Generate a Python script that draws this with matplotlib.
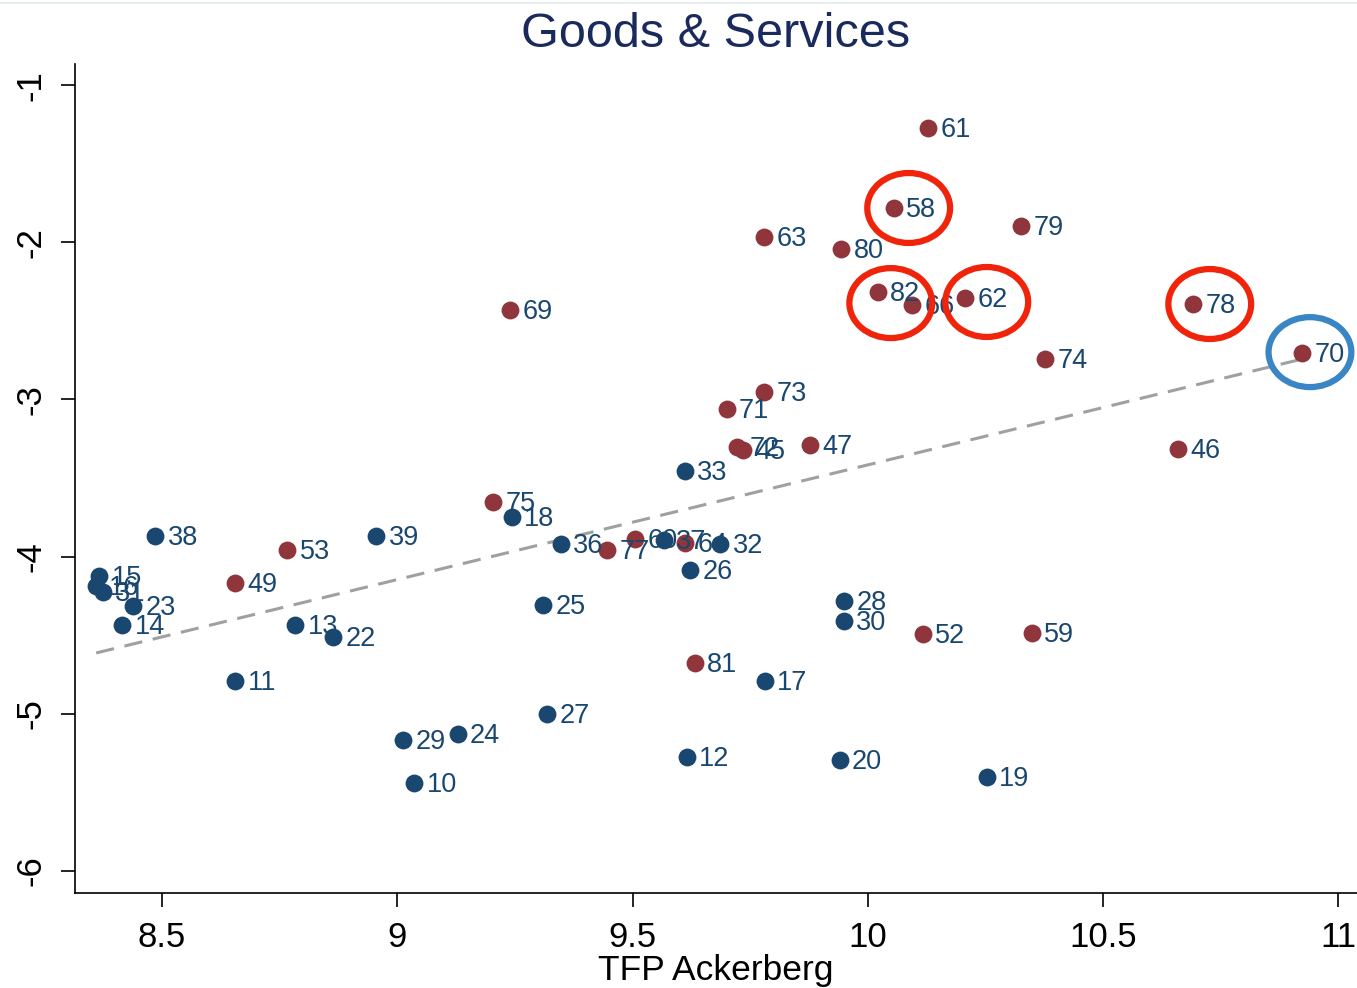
import numpy as np
import matplotlib
matplotlib.use('Agg')
import matplotlib.pyplot as plt
from matplotlib.patches import Ellipse
from matplotlib.lines import Line2D

plt.rcParams['font.family'] = ['Liberation Sans', 'DejaVu Sans']

# blue group
blue_lab = ['10', '11', '12', '13', '14', '15', '16', '17', '18', '19', '20', '22', '23', '24',
            '25', '26', '27', '28', '29', '30', '31', '32', '33', '36', '37', '38', '39']
blue_x = [9.036, 8.655, 9.615, 8.783, 8.415, 8.366, 8.360, 9.781, 9.243, 10.253, 9.940, 8.864, 8.438, 9.128,
          9.309, 9.623, 9.319, 9.949, 9.013, 9.949, 8.374, 9.687, 9.611, 9.347, 9.566, 8.485, 8.955]
blue_y = [-5.440, -4.791, -5.275, -4.435, -4.435, -4.123, -4.187, -4.791, -3.748, -5.402, -5.294, -4.511, -4.314, -5.128,
          -4.308, -4.085, -5.001, -4.282, -5.167, -4.410, -4.225, -3.920, -3.455, -3.920, -3.894, -3.869, -3.869]

# red group
red_lab = ['45', '46', '47', '49', '52', '53', '58', '59', '60', '61', '62', '63', '64', '66',
           '69', '70', '71', '72', '73', '74', '75', '77', '78', '79', '80', '81', '82']
red_x = [9.734, 10.660, 9.877, 8.655, 10.117, 8.766, 10.055, 10.349, 9.506, 10.128, 10.206, 9.779, 9.611, 10.094,
         9.240, 10.923, 9.700, 9.723, 9.779, 10.377, 9.204, 9.445, 10.691, 10.326, 9.943, 9.632, 10.021]
red_y = [-3.322, -3.316, -3.290, -4.168, -4.492, -3.958, -1.782, -4.486, -3.888, -1.274, -2.355, -1.967, -3.913, -2.400,
         -2.431, -2.705, -3.061, -3.303, -2.953, -2.743, -3.653, -3.958, -2.393, -1.897, -2.043, -4.677, -2.317]

# highlighted points: label, ring colour, shift of ring centre from the point (data units)
circled = [('58', '#f0240a', 0.032, 0.0),
           ('82', '#f0240a', 0.028, -0.07),
           ('62', '#f0240a', 0.047, -0.025),
           ('78', '#f0240a', 0.036, 0.0),
           ('70', '#3a86c4', 0.017, 0.006)]

navy = '#1a476f'
maroon = '#90353b'

fig = plt.figure(figsize=(13.57, 9.88), dpi=100)
ax = fig.add_axes([0.0553, 0.0962, 0.9447, 0.839])

# linear fit over all points
all_x = np.array(blue_x + red_x)
all_y = np.array(blue_y + red_y)
b, a = np.polyfit(all_x, all_y, 1)
fx = np.array([all_x.min(), all_x.max()])
ax.plot(fx, a + b * fx, ls=(0, (6, 3.5)), color='#a0a0a0', lw=2.2, zorder=1)

ax.scatter(blue_x, blue_y, s=165, color=navy, zorder=3, linewidths=0)
ax.scatter(red_x, red_y, s=165, color=maroon, zorder=3, linewidths=0)

for labs, xs, ys in [(blue_lab, blue_x, blue_y), (red_lab, red_x, red_y)]:
    for t, x, y in zip(labs, xs, ys):
        ax.annotate(t, (x, y), xytext=(9, -1.5), textcoords='offset points',
                    ha='left', va='center', fontsize=19.5, color=navy, zorder=4)

all_lab = blue_lab + red_lab
for t, col, dx, dy in circled:
    i = all_lab.index(t)
    e = Ellipse((all_x[i] + dx, all_y[i] + dy), 0.176, 0.445, fill=False,
                edgecolor=col, lw=4.5, zorder=5)
    ax.add_patch(e)

ax.set_xlim(8.315, 11.04)
ax.set_ylim(-6.14, -0.866)
ax.set_xticks([8.5, 9, 9.5, 10, 10.5, 11])
ax.set_xticklabels(['8.5', '9', '9.5', '10', '10.5', '11'])
ax.set_yticks([-1, -2, -3, -4, -5, -6])
ax.set_yticklabels(['-1', '-2', '-3', '-4', '-5', '-6'], rotation=90, va='center')
ax.tick_params(labelsize=25, length=10, width=1.2, pad=10)
ax.spines['top'].set_visible(False)
ax.spines['right'].set_visible(False)
ax.spines['left'].set_linewidth(1.2)
ax.spines['bottom'].set_linewidth(1.2)

ax.set_title('Goods & Services', fontsize=35, color='#1a2a5c', pad=12)
ax.set_xlabel('TFP Ackerberg', fontsize=25.5, labelpad=0)

fig.add_artist(Line2D([0, 1], [0.997, 0.997], color='#e6ecf0', lw=1.5))

fig.savefig('out.png', dpi=100)
plt.close(fig)
